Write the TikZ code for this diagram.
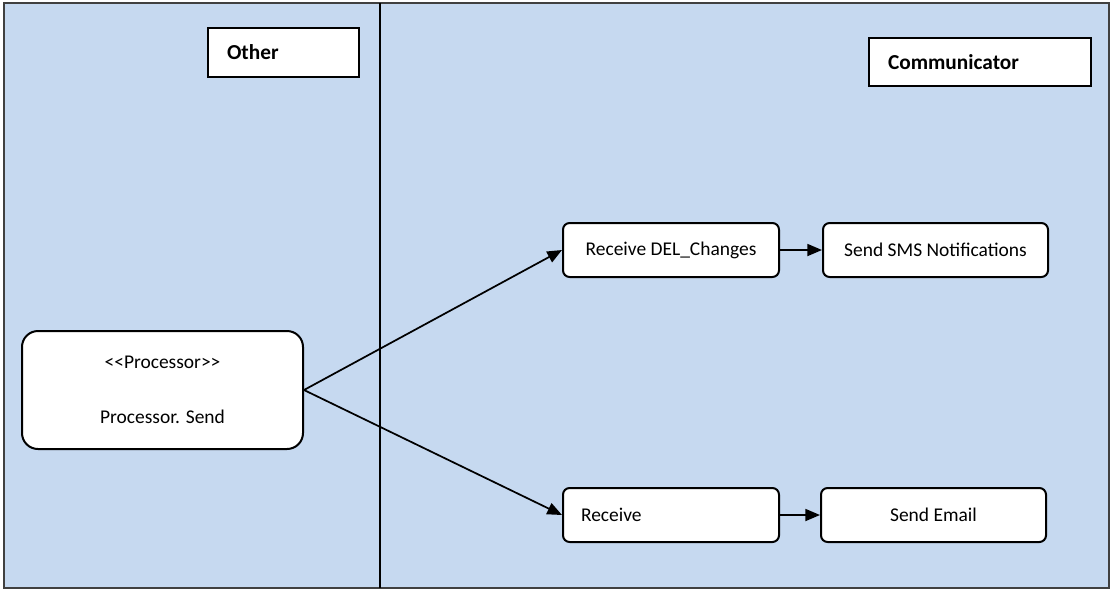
\documentclass[tikz,border=0pt]{standalone}
\usepackage{fontspec}
\newfontfamily\calibri{Carlito}
\usetikzlibrary{arrows.meta}
\definecolor{lanefill}{RGB}{198,217,240}
\begin{document}
\begin{tikzpicture}[x=0.75pt,y=-0.75pt,
  every node/.style={font=\calibri\fontsize{14.6}{17}\selectfont},
  act/.style={draw, line width=1.5pt, fill=white, rounded corners=5pt, inner sep=0pt, minimum height=40.5pt},
  lanebox/.style={draw, line width=1.5pt, fill=white, inner sep=0pt, inner xsep=14.25pt, align=left, font=\calibri\bfseries\fontsize{16}{19}\selectfont},
  flow/.style={line width=1.3pt, -{Triangle[length=11pt,width=9pt]}}
]
\useasboundingbox (0,0) rectangle (1112,590);
\fill[lanefill] (4,3) rectangle (1109,588);
\draw[line width=0.8pt, black!75] (4,3) rectangle (1109,588);
\draw[line width=1.2pt] (380,3) -- (380,588);

\node[lanebox, text width=84.75pt, minimum height=36.75pt] (other) at (283.5,52.5) {Other};
\node[lanebox, text width=138pt, minimum height=36pt] (comm) at (980,62) {Communicator};

\node[act, rounded corners=12pt, minimum width=210.75pt, minimum height=88.5pt, align=center,
  font=\calibri\fontsize{14.6}{41.25}\selectfont] (proc) at (162.5,390) {<<Processor>>\\Processor. Send};
\node[act, minimum width=162pt] (rdel) at (671,250) {Receive DEL\_Changes};
\node[act, minimum width=168.75pt] (sms) at (935.5,250) {Send SMS Notifications};
\node[act, text width=135pt, inner xsep=13.5pt, align=left] (recv) at (671,515) {Receive};
\node[act, minimum width=168.75pt] (email) at (933.5,515) {Send Email};

\draw[flow] (proc.east) -- (rdel.west);
\draw[flow] (proc.east) -- (recv.west);
\draw[flow] (rdel.east) -- (sms.west);
\draw[flow] (recv.east) -- (email.west);
\end{tikzpicture}
\end{document}
